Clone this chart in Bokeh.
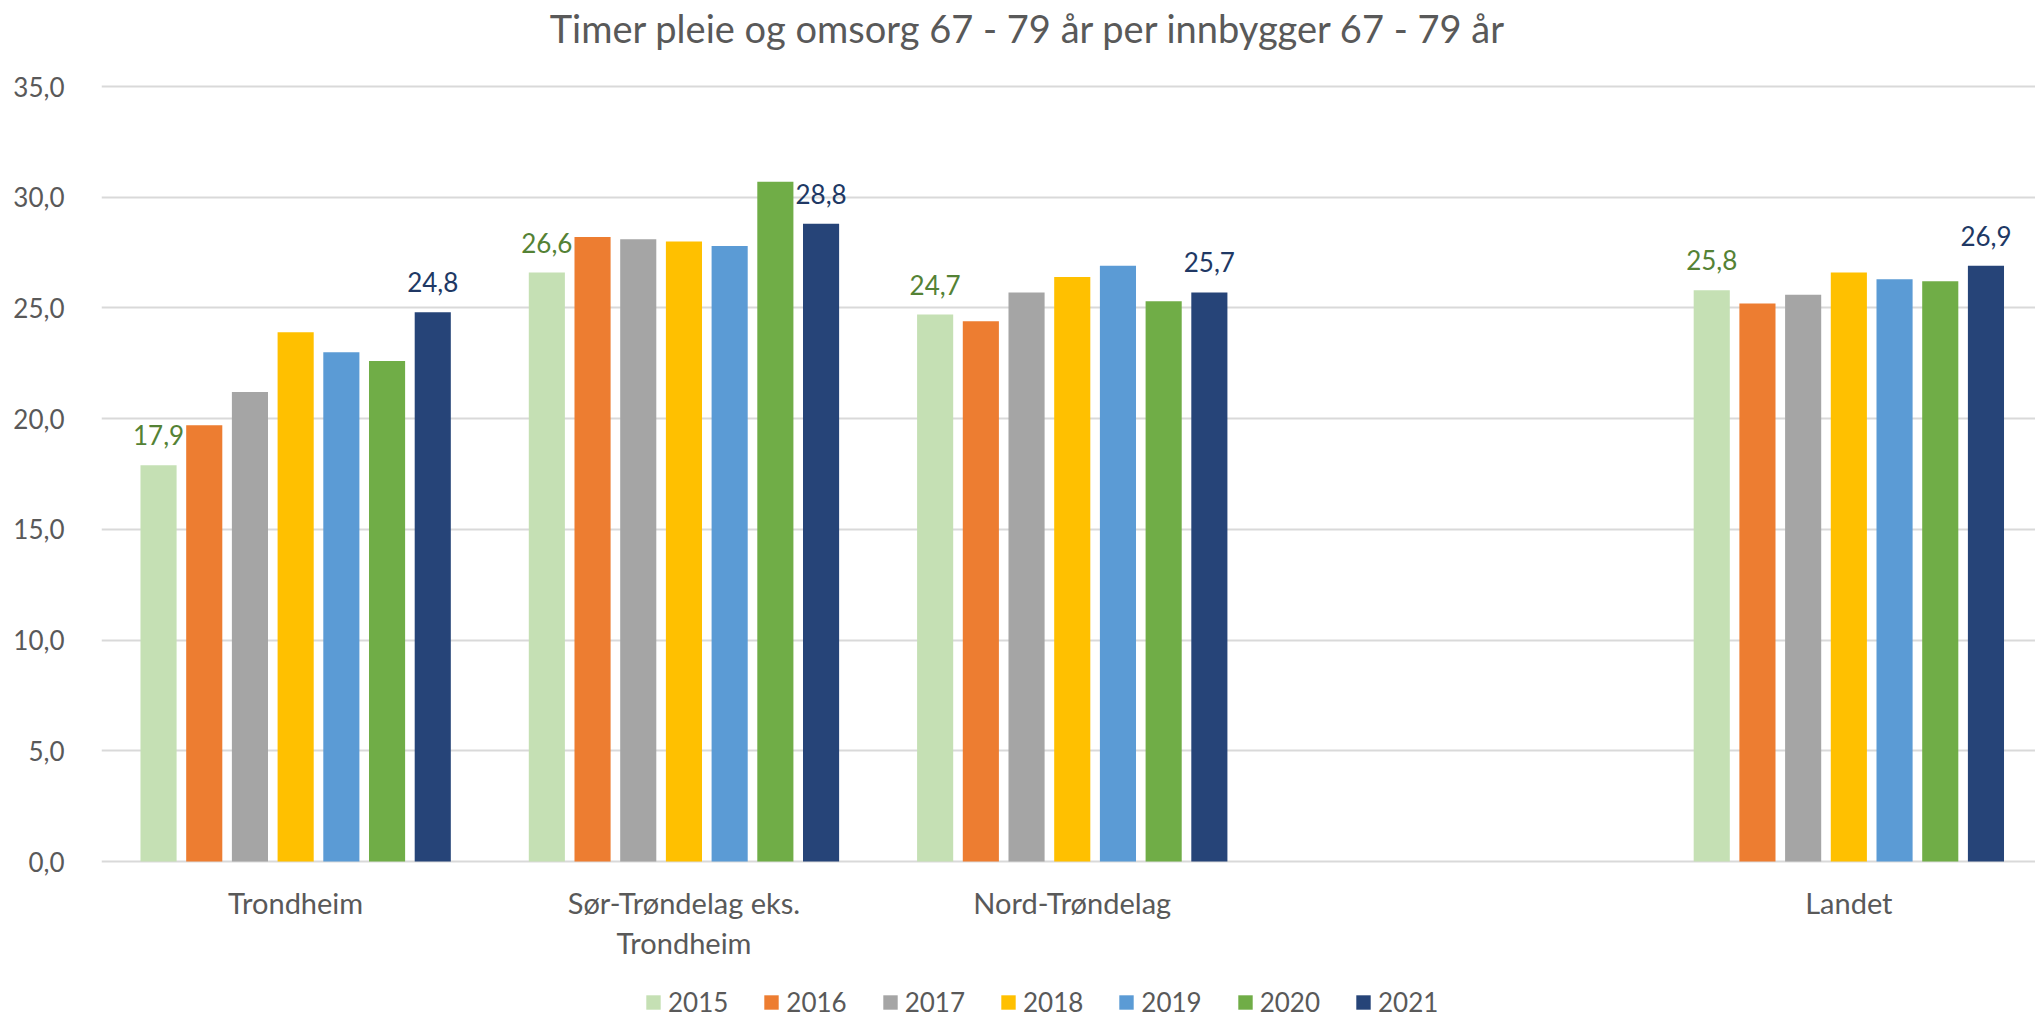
import numpy as np
from bokeh.plotting import figure
from bokeh.models import (ColumnDataSource, Range1d, LabelSet, Label, Legend, LegendItem,
                          FixedTicker)
from bokeh.core.properties import value
from bokeh.embed import file_html
from bokeh.resources import INLINE

# ---------------- data ----------------
title_text = "Timer pleie og omsorg 67 - 79 år per innbygger 67 - 79 år"
categories = ["Trondheim", "Sør-Trøndelag eks.\nTrondheim", "Nord-Trøndelag", "", "Landet"]
years = ["2015", "2016", "2017", "2018", "2019", "2020", "2021"]
v2015 = [17.9, 26.6, 24.7, None, 25.8]
v2016 = [19.7, 28.2, 24.4, None, 25.2]
v2017 = [21.2, 28.1, 25.7, None, 25.6]
v2018 = [23.9, 28.0, 26.4, None, 26.6]
v2019 = [23.0, 27.8, 26.9, None, 26.3]
v2020 = [22.6, 30.7, 25.3, None, 26.2]
v2021 = [24.8, 28.8, 25.7, None, 26.9]
series = [v2015, v2016, v2017, v2018, v2019, v2020, v2021]
labelled_years = ["2015", "2021"]
y_ticks = [0, 5, 10, 15, 20, 25, 30, 35]
y_tick_labels = ["0,0", "5,0", "10,0", "15,0", "20,0", "25,0", "30,0", "35,0"]

colors = ["#C5E0B4", "#ED7D31", "#A5A5A5", "#FFC000", "#5B9BD5", "#70AD47", "#264478"]
label_colors = {"2015": "#548235", "2021": "#203864"}

FONT = "Lato"
TEXT_GRAY = "#595959"
GRID = "#D9D9D9"

# ---------------- layout constants (pixels) ----------------
W, H = 2035, 1018
LEFT = 101                 # frame left edge
ZERO_FROM_TOP = 861
PX_PER_UNIT = 775 / 35.0   # 35 units span 775px
CAT_PX = 388.3             # width of one category slot
Y_TOP = ZERO_FROM_TOP / PX_PER_UNIT
Y_BOTTOM = -(H - ZERO_FROM_TOP) / PX_PER_UNIT
X_END = (W - LEFT) / CAT_PX

p = figure(width=W, height=H, output_backend="svg", toolbar_location=None,
           x_range=Range1d(0, X_END), y_range=Range1d(Y_BOTTOM, Y_TOP),
           min_border_left=LEFT, min_border_right=0, min_border_top=0,
           min_border_bottom=0)
p.outline_line_color = None
p.background_fill_color = "white"
p.xaxis.visible = False

centers = [i + 0.5 for i in range(len(categories))]
step = 0.1177
bar_w = 0.093

renderers = []
for j, (yr, vals) in enumerate(zip(years, series)):
    xs, tops = [], []
    for c, v in zip(centers, vals):
        if v is not None:
            xs.append(c + (j - 3) * step)
            tops.append(v)
    src = ColumnDataSource(dict(x=xs, top=tops,
                                txt=[f"{t:.1f}".replace(".", ",") for t in tops]))
    r = p.vbar(x="x", top="top", width=bar_w, bottom=0, source=src,
               fill_color=colors[j], line_color=None)
    renderers.append(r)
    if yr in labelled_years:
        ls = LabelSet(x="x", y="top", text="txt", source=src, text_align="center",
                      text_baseline="alphabetic", y_offset=20,
                      text_font=value(FONT), text_font_size=value("26px"),
                      text_color=value(label_colors[yr]))
        p.add_layout(ls)

# ---------------- y axis & grid ----------------
p.xgrid.grid_line_color = None
p.ygrid.grid_line_color = GRID
p.ygrid.grid_line_width = 2
p.ygrid.ticker = FixedTicker(ticks=y_ticks)

p.yaxis.ticker = FixedTicker(ticks=y_ticks)
p.yaxis.major_label_overrides = {t: l for t, l in zip(y_ticks, y_tick_labels)}
p.yaxis.axis_line_color = None
p.yaxis.major_tick_line_color = None
p.yaxis.minor_tick_line_color = None
p.yaxis.major_label_standoff = 31
p.yaxis.major_label_text_font = FONT
p.yaxis.major_label_text_font_size = "26px"
p.yaxis.major_label_text_color = TEXT_GRAY

# ---------------- category labels (under the zero line) ----------------
line1 = [c.split("\n")[0] for c in categories]
line2 = [c.split("\n")[1] if "\n" in c else "" for c in categories]
cat_src = ColumnDataSource(dict(x=centers, y=[0] * len(centers), l1=line1, l2=line2))
for col, off in (("l1", -52), ("l2", -92)):
    p.add_layout(LabelSet(x="x", y="y", text=col, source=cat_src, text_align="center",
                          text_baseline="alphabetic", y_offset=off,
                          text_font=value(FONT), text_font_size=value("29px"),
                          text_color=value(TEXT_GRAY)))

# ---------------- title ----------------
title = Label(x=1028 - LEFT, y=H - 27, x_units="screen", y_units="screen", text=title_text,
              text_align="center", text_baseline="alphabetic",
              text_font=FONT, text_font_size="38px", text_color=TEXT_GRAY)
p.add_layout(title)

# ---------------- legend ----------------
items = [LegendItem(label=yr, renderers=[r]) for yr, r in zip(years, renderers)]
legend = Legend(items=items, orientation="horizontal", location=(644 - LEFT, 0),
                glyph_width=18, glyph_height=18, label_standoff=6, spacing=34,
                padding=0, margin=0, border_line_color=None,
                background_fill_alpha=0,
                label_text_font=FONT, label_text_font_size="26px",
                label_text_color=TEXT_GRAY)
p.add_layout(legend)

open("out.html", "w").write(file_html(p, INLINE))
